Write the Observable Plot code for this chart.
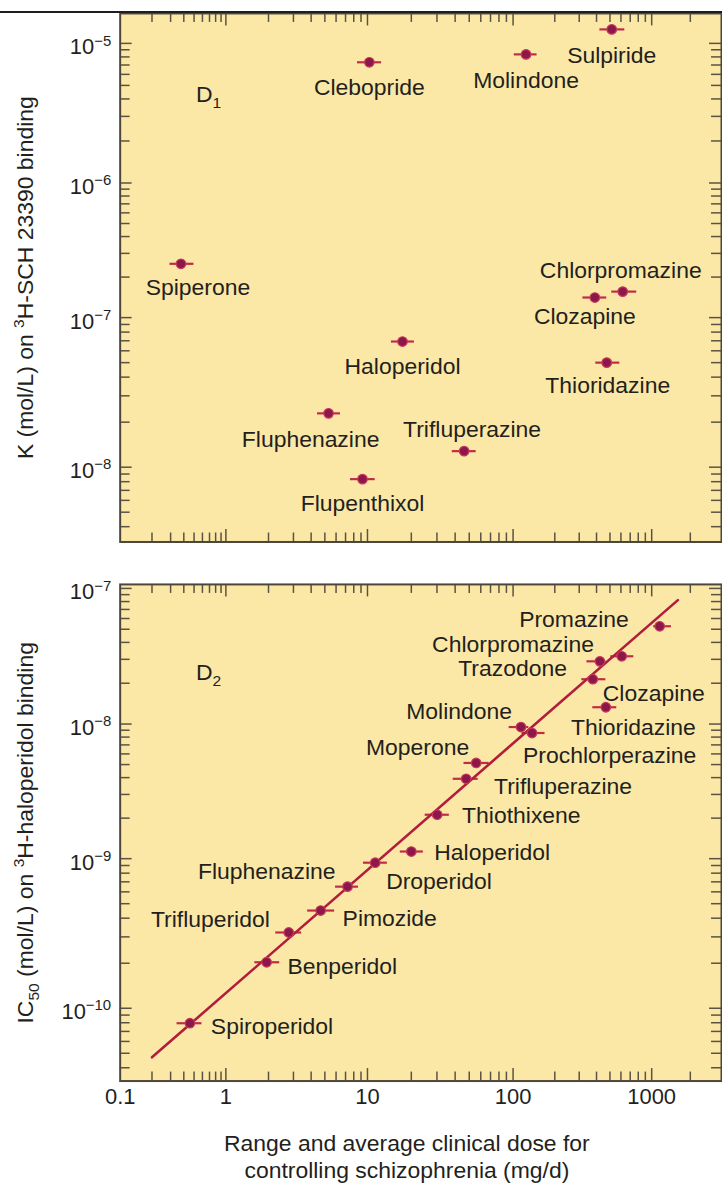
<!DOCTYPE html>
<html><head><meta charset="utf-8">
<script src="https://cdn.jsdelivr.net/npm/d3@7"></script>
<script src="https://cdn.jsdelivr.net/npm/@observablehq/plot@0.6"></script>
<style>
html,body{margin:0;padding:0;background:#fff;overflow:hidden;width:722px;height:1184px;}
#wrap{position:relative;width:722px;height:1184px;overflow:hidden;font-family:"Liberation Sans",Arial,Helvetica,sans-serif;}
#rule{position:absolute;left:0;top:11px;width:722px;height:2px;background:#1e1e1e;z-index:2}
#p1{position:absolute;left:0;top:0}
#p2{position:absolute;left:0;top:560px}
svg{display:block;overflow:visible}
</style></head><body>
<div id="wrap"><div id="p1"></div><div id="p2"></div><div id="rule"></div></div>
<script>
// ---------- data: D1 panel (K on 3H-SCH 23390 binding) ----------
const d1Drugs   = ["Clebopride","Molindone","Sulpiride","Spiperone","Chlorpromazine","Clozapine","Haloperidol","Thioridazine","Fluphenazine","Trifluperazine","Flupenthixol"];
const d1Dose    = [10.3, 124, 515, 0.376, 618, 389, 17.4, 474, 5.31, 46.1, 9.22];
const d1DoseLow = [8.5, 102, 423, 0.296, 515, 319, 14.6, 395, 4.44, 38.2, 7.59];
const d1DoseHigh= [12.5, 149, 640, 0.499, 780, 474, 21, 589, 6.45, 55.8, 11.3];
const d1K       = [7.32e-6, 8.34e-6, 1.26e-5, 2.51e-7, 1.56e-7, 1.41e-7, 6.92e-8, 5.0e-8, 2.29e-8, 1.28e-8, 8.32e-9];

// ---------- data: D2 panel (IC50 on 3H-haloperidol binding) ----------
const d2Drugs   = ["Promazine","Chlorpromazine","Clozapine","Trazodone","Thioridazine","Molindone","Prochlorperazine","Moperone","Trifluperazine","Thiothixene","Haloperidol","Droperidol","Fluphenazine","Pimozide","Trifluperidol","Benperidol","Spiroperidol"];
const d2Dose    = [1154, 423, 608, 376, 467, 114, 137, 55.8, 47.6, 30.1, 20, 11.3, 7.23, 4.67, 2.78, 1.94, 0.457];
const d2DoseLow = [1036, 341, 507, 313, 376, 94, 116, 46, 38.8, 24.9, 16.8, 9.37, 5.95, 3.78, 2.25, 1.6, 0.345];
const d2DoseHigh= [1425, 467, 743, 467, 560, 130, 170, 68.5, 57.6, 36.5, 24.2, 13.7, 8.64, 5.86, 3.43, 2.4, 0.594];
const d2IC50    = [5.26e-8, 2.90e-8, 3.16e-8, 2.14e-8, 1.33e-8, 9.5e-9, 8.58e-9, 5.14e-9, 3.92e-9, 2.12e-9, 1.13e-9, 9.4e-10, 6.5e-10, 4.5e-10, 3.21e-10, 2.03e-10, 7.94e-11];

// regression line (two end points)
const fitDose = [0.2, 1600];
const fitIC50 = [4.7e-11, 8.2e-8];

// ---------- axes ----------
const xTickLabels = [0.1, 1, 10, 100, 1000];
const xMajor = [1, 10, 100, 1000];
const xMinorMult = [2,3,4,5,6,7,8,9];
const xMinor = [0.1,1,10,100].flatMap(b => xMinorMult.map(m => +(b*m).toPrecision(3))).concat([2000]);
const y1Major = [1e-5, 1e-6, 1e-7, 1e-8];
const y1Exp   = ["−5","−6","−7","−8"];
const y2Major = [1e-7, 1e-8, 1e-9, 1e-10];
const y2Exp   = ["−7","−8","−9","−10"];
const y1Minor = [1e-6,1e-7,1e-8,1e-9].flatMap(b => xMinorMult.map(m => +(b*m).toPrecision(3))).filter(v => v > 3.2e-9 && v < 1.6e-5);
const y2Minor = [1e-8,1e-9,1e-10,1e-11].flatMap(b => xMinorMult.map(m => +(b*m).toPrecision(3))).filter(v => v > 3.3e-11 && v < 1.06e-7);

const y1Title = "K (mol/L) on ^{3}H-SCH 23390 binding";
const y2Title = "IC_{50} (mol/L) on ^{3}H-haloperidol binding";
const xTitle  = "Range and average clinical dose for\ncontrolling schizophrenia (mg/d)";

// ---------- layout / style (not data) ----------
const BG = "#fbe8a7", FRAME = "#4d473a", TICK = "#5a5343", TXT = "#231f1c";
const BAR = "#c02c48", DOT = "#8d1748", DOTSTROKE = "#c43a5c", LINE = "#b31d3d";
const FS = 23;
// x scale of the original drawing (piecewise log: first decade is compressed)
const xDomain = [0.1, 1, 10, 100, 1000, 3500];
const xRange  = [120, 226, 368, 514, 653, 723];
// label placement: [textAnchor, dx, dy]
const place1 = {
  Clebopride:["middle",0,25], Molindone:["middle",0,26], Sulpiride:["middle",0,26],
  Spiperone:["middle",17,24], Chlorpromazine:["middle",-2,-21], Clozapine:["middle",-10,19],
  Haloperidol:["middle",0,25], Thioridazine:["middle",1,23], Fluphenazine:["middle",-18,26],
  Trifluperazine:["middle",8,-22], Flupenthixol:["middle",0,25]
};
const place2 = {
  Promazine:["end",-31,-7], Chlorpromazine:["end",-6,-17], Trazodone:["end",-26,-11],
  Clozapine:["start",-19,37], Thioridazine:["start",-35,20], Molindone:["end",-9,-15],
  Moperone:["end",-7,-15], Prochlorperazine:["start",-9,23], Trifluperazine:["start",28,8],
  Thiothixene:["start",25,1], Haloperidol:["start",23,1], Fluphenazine:["end",-12,-15],
  Droperidol:["start",11,19], Pimozide:["start",22,8], Trifluperidol:["end",-19,-13],
  Benperidol:["start",21,4], Spiroperidol:["start",21,3]
};

const d1 = d1Drugs.map((name,i) => ({name, dose:d1Dose[i], lo:d1DoseLow[i], hi:d1DoseHigh[i], v:d1K[i]}));
const d2 = d2Drugs.map((name,i) => ({name, dose:d2Dose[i], lo:d2DoseLow[i], hi:d2DoseHigh[i], v:d2IC50[i]}));
const fit = fitDose.map((d,i) => ({dose:d, v:fitIC50[i]}));

function panel({data, yDomain, yRange, height, marginTop, marginBottom, yMajor, yExp, yMinor, yTitle, dText, dDy, places, line, bottomAxis}) {
  const W = 724, ML = 120, MR = 1;
  const H = height - marginTop - marginBottom, PW = W - ML - MR;
  const marks = [
    Plot.frame({fill: BG, stroke: null}),
    Plot.ruleY(data, {y: "v", x1: "lo", x2: "hi", stroke: BAR, strokeWidth: 2.2}),
  ];
  if (line) marks.push(Plot.line(line, {x: "dose", y: "v", stroke: LINE, strokeWidth: 2.6}));
  marks.push(Plot.dot(data, {x: "dose", y: "v", r: 4.8, fill: DOT, stroke: DOTSTROKE, strokeWidth: 1.2}));
  for (const d of data) {
    const [anchor, dx, dy] = places[d.name];
    marks.push(Plot.text([d], {x: "dose", y: "v", text: "name", textAnchor: anchor, dx, dy, fontSize: FS, fill: TXT}));
  }
  // inward ticks on all four sides
  marks.push(
    Plot.tickX(xMinor, {x: d => d, insetTop: H - 9, stroke: TICK, strokeWidth: 1.5}),
    Plot.tickX(xMajor, {x: d => d, insetTop: H - 12.5, stroke: TICK, strokeWidth: 1.5}),
    Plot.tickX(xMinor, {x: d => d, insetBottom: H - 9, stroke: TICK, strokeWidth: 1.5}),
    Plot.tickX(xMajor, {x: d => d, insetBottom: H - 12.5, stroke: TICK, strokeWidth: 1.5}),
    Plot.tickY(yMinor, {y: d => d, insetRight: PW - 10, stroke: TICK, strokeWidth: 1.5}),
    Plot.tickY(yMajor, {y: d => d, insetRight: PW - 12, stroke: TICK, strokeWidth: 1.5}),
    Plot.tickY(yMinor, {y: d => d, insetLeft: PW - 10, stroke: TICK, strokeWidth: 1.5}),
    Plot.tickY(yMajor, {y: d => d, insetLeft: PW - 12, stroke: TICK, strokeWidth: 1.5}),
    Plot.frame({stroke: FRAME, strokeWidth: 2}),
    Plot.text(yMajor, {y: d => d, text: (d,i) => "10^{" + yExp[i] + "}", frameAnchor: "left", textAnchor: "end", dx: -9, dy: 4, fontSize: 22, fill: TXT}),
    Plot.text([yTitle], {text: d => d, frameAnchor: "left", textAnchor: "middle", rotate: -90, dx: -95, fontSize: FS, fill: TXT}),
    Plot.text([dText], {text: d => d, frameAnchor: "top-left", textAnchor: "start", dx: 76, dy: dDy, fontSize: FS, fill: TXT})
  );
  if (bottomAxis) {
    marks.push(
      Plot.text(xTickLabels, {x: d => d, text: d => String(d), frameAnchor: "bottom", dy: 23, fontSize: 22, fill: TXT}),
      Plot.text([xTitle], {text: d => d, frameAnchor: "bottom", lineAnchor: "top", dx: -14, dy: 51, lineHeight: 1.17, fontSize: FS, fill: TXT})
    );
  }
  return Plot.plot({
    width: W, height, marginLeft: ML, marginRight: MR, marginTop, marginBottom,
    style: {fontFamily: '"Liberation Sans", Arial, Helvetica, sans-serif', background: "transparent", overflow: "visible"},
    x: {type: "log", domain: xDomain, range: xRange, axis: null},
    y: {type: "log", domain: yDomain, range: yRange, axis: null},
    marks
  });
}

// turn ^{..} / _{..} into superscript / subscript tspans (real text)
function richText(svg) {
  const ns = "http://www.w3.org/2000/svg";
  svg.querySelectorAll("text").forEach(t => {
    if (t.querySelector("tspan")) return;
    const s = t.textContent;
    if (!/[\^_]\{/.test(s)) return;
    const cs = getComputedStyle(t);
    const fs = parseFloat(cs.fontSize) || 22;
    const anchor = cs.textAnchor;
    t.textContent = "";
    const parts = s.split(/(\^\{[^}]*\}|_\{[^}]*\})/).filter(p => p);
    let shift = 0;
    for (const p of parts) {
      const ts = document.createElementNS(ns, "tspan");
      let target = 0, size = null, str = p;
      if (p.startsWith("^{")) { target = -0.4 * fs; size = 0.68 * fs; str = p.slice(2, -1); }
      else if (p.startsWith("_{")) { target = 0.28 * fs; size = 0.68 * fs; str = p.slice(2, -1); }
      ts.textContent = str;
      if (size) ts.setAttribute("font-size", size.toFixed(1));
      if (target !== shift) { ts.setAttribute("dy", (target - shift).toFixed(1)); shift = target; }
      t.appendChild(ts);
    }
    // anchor explicitly (start) using the measured length
    const len = t.getComputedTextLength();
    const x0 = parseFloat(t.getAttribute("x")) || 0;
    const off = anchor === "middle" ? -len / 2 : anchor === "end" ? -len : 0;
    t.setAttribute("text-anchor", "start");
    t.setAttribute("x", (x0 + off).toFixed(1));
  });
}

const p1 = panel({
  data: d1, height: 560, marginTop: 13, marginBottom: 17,
  yDomain: [3.16e-9, 1e-8, 1e-7, 1e-6, 1e-5, 1.64e-5],
  yRange:  [543, 468, 318, 183, 43, 13],
  yMajor: y1Major, yExp: y1Exp, yMinor: y1Minor, yTitle: y1Title,
  dText: "D_{1}", dDy: 72, places: place1, line: null, bottomAxis: false
});
const p2 = panel({
  data: d2, height: 624, marginTop: 24, marginBottom: 102,
  yDomain: [3.26e-11, 1e-10, 1e-9, 1e-8, 1e-7, 1.07e-7],
  yRange:  [522, 449, 299, 164, 28, 24],
  yMajor: y2Major, yExp: y2Exp, yMinor: y2Minor, yTitle: y2Title,
  dText: "D_{2}", dDy: 79, places: place2, line: fit, bottomAxis: true
});
document.getElementById("p1").appendChild(p1);
document.getElementById("p2").appendChild(p2);
richText(p1); richText(p2);
</script>
</body></html>
